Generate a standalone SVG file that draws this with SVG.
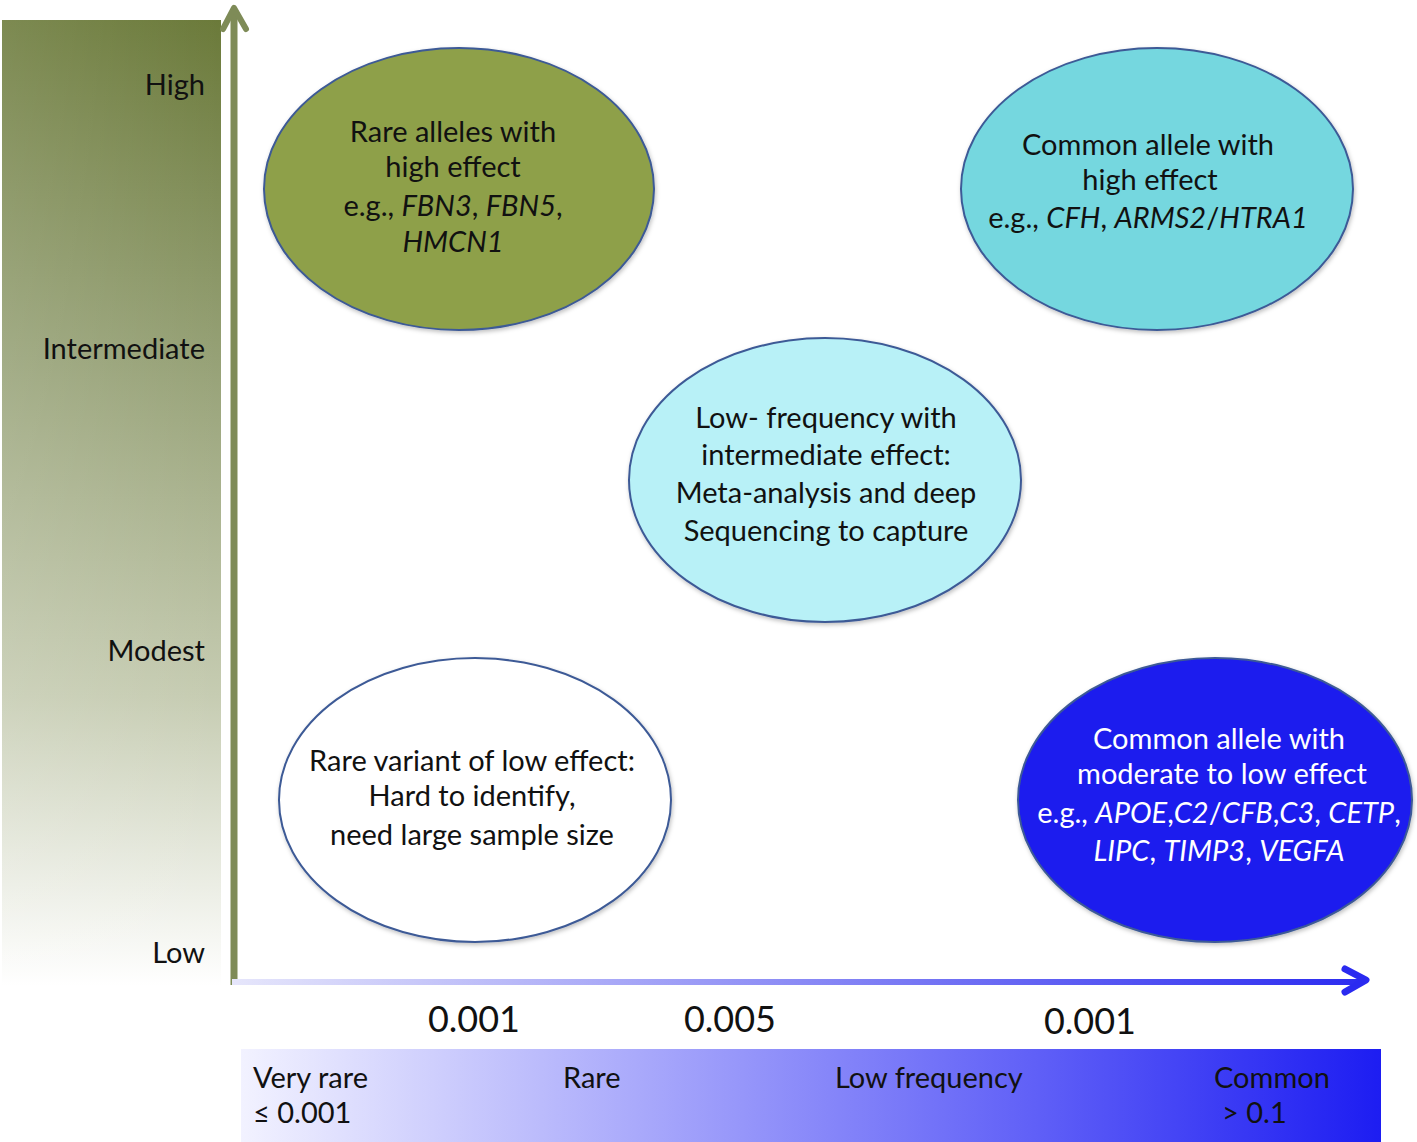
<svg xmlns="http://www.w3.org/2000/svg" width="1417" height="1142" viewBox="0 0 1417 1142">
<defs>
<linearGradient id="gPanel" x1="0" y1="0" x2="0" y2="1">
<stop offset="0" stop-color="#6b7a3a"/>
<stop offset="0.35" stop-color="#96a176"/>
<stop offset="0.7" stop-color="#c6ccb2"/>
<stop offset="1" stop-color="#ffffff"/>
</linearGradient>
<linearGradient id="gPanelH" x1="0" y1="0" x2="1" y2="0">
<stop offset="0" stop-color="#ffffff" stop-opacity="0.12"/>
<stop offset="1" stop-color="#ffffff" stop-opacity="0"/>
</linearGradient>
<linearGradient id="gBar" x1="0" y1="0" x2="1" y2="0">
<stop offset="0" stop-color="#f2f2ff"/>
<stop offset="0.35" stop-color="#a9a9fb"/>
<stop offset="0.7" stop-color="#5f5ff7"/>
<stop offset="1" stop-color="#1d1df2"/>
</linearGradient>
<linearGradient id="gAxis" x1="232" y1="0" x2="1370" y2="0" gradientUnits="userSpaceOnUse">
<stop offset="0" stop-color="#e6e6fb"/>
<stop offset="0.5" stop-color="#8a8af5"/>
<stop offset="1" stop-color="#2a2af0"/>
</linearGradient>
<filter id="sh" x="-5%" y="-5%" width="110%" height="115%">
<feDropShadow dx="1" dy="2" stdDeviation="2" flood-color="#000" flood-opacity="0.25"/>
</filter>
</defs>
<style>
.t{font-family:"Lato","Open Sans","Liberation Sans",sans-serif;font-size:29px;fill:#111}
.c{text-anchor:middle}
.r{text-anchor:end}
.w{fill:#ffffff}
.i{font-style:italic}
.n{font-size:36px}
.e{stroke:#3d5a96;stroke-width:2;filter:url(#sh)}
</style>
<rect width="1417" height="1142" fill="#ffffff"/>
<g id="effect-panel">
<rect x="2" y="20" width="219" height="966" fill="url(#gPanel)"/>
<rect x="2" y="20" width="219" height="966" fill="url(#gPanelH)"/>
<text class="t r" x="205" y="95">High</text>
<text class="t r" x="205" y="359">Intermediate</text>
<text class="t r" x="205" y="661">Modest</text>
<text class="t r" x="205" y="963">Low</text>
</g>
<g id="axes">
<line x1="234" y1="985" x2="234" y2="10" stroke="#7e8b57" stroke-width="7"/>
<polyline points="223,29 234,8 246,29" fill="none" stroke="#7e8b57" stroke-width="6" stroke-linecap="round" stroke-linejoin="round"/>
<line x1="232" y1="982" x2="1362" y2="982" stroke="url(#gAxis)" stroke-width="6"/>
<polyline points="1345,969 1366,980 1345,992" fill="none" stroke="#2a2af0" stroke-width="7" stroke-linecap="round" stroke-linejoin="round"/>
</g>
<g id="node-rare-high">
<ellipse class="e" cx="459" cy="189" rx="195" ry="141" fill="#8ea04a"/>
<text class="t c" x="453" y="142">Rare alleles with</text>
<text class="t c" x="453" y="177">high effect</text>
<text class="t c" x="453" y="216">e.g., <tspan class="i">FBN3</tspan>, <tspan class="i">FBN5</tspan>,</text>
<text class="t c i" x="453" y="252">HMCN1</text>
</g>
<g id="node-common-high">
<ellipse class="e" cx="1157" cy="189" rx="196" ry="141" fill="#74d7df"/>
<text class="t c" x="1148" y="155">Common allele with</text>
<text class="t c" x="1150" y="190">high effect</text>
<text class="t c" x="1148" y="228">e.g., <tspan class="i">CFH</tspan>, <tspan class="i">ARMS2</tspan>/<tspan class="i">HTRA1</tspan></text>
</g>
<g id="node-lowfreq">
<ellipse class="e" cx="825" cy="480" rx="196" ry="142" fill="#b8f1f7"/>
<text class="t c" x="826" y="428">Low- frequency with</text>
<text class="t c" x="826" y="465">intermediate effect:</text>
<text class="t c" x="826" y="503">Meta-analysis and deep</text>
<text class="t c" x="826" y="541">Sequencing to capture</text>
</g>
<g id="node-rare-low">
<ellipse class="e" cx="475" cy="800" rx="196" ry="142" fill="#ffffff"/>
<text class="t c" x="472" y="771">Rare variant of low effect:</text>
<text class="t c" x="472" y="806">Hard to identify,</text>
<text class="t c" x="472" y="845">need large sample size</text>
</g>
<g id="node-common-low">
<ellipse class="e" cx="1215" cy="800" rx="197" ry="142" fill="#1c1cee"/>
<text class="t c w" x="1219" y="749">Common allele with</text>
<text class="t c w" x="1222" y="784">moderate to low effect</text>
<text class="t c w" x="1219" y="823">e.g., <tspan class="i">APOE</tspan>,<tspan class="i">C2</tspan>/<tspan class="i">CFB</tspan>,<tspan class="i">C3</tspan>, <tspan class="i">CETP</tspan>,</text>
<text class="t c w i" x="1219" y="861">LIPC<tspan font-style="normal">, </tspan>TIMP3<tspan font-style="normal">, </tspan>VEGFA</text>
</g>
<g id="ticks">
<text class="t n c" x="474" y="1032">0.001</text>
<text class="t n c" x="730" y="1032">0.005</text>
<text class="t n c" x="1090" y="1034">0.001</text>
</g>
<g id="frequency-bar">
<rect x="241" y="1049" width="1140" height="93" fill="url(#gBar)"/>
<text class="t" x="253" y="1088">Very rare</text>
<text class="t" x="253" y="1123">≤ 0.001</text>
<text class="t" x="563" y="1088">Rare</text>
<text class="t" x="835" y="1088">Low frequency</text>
<text class="t" x="1214" y="1088">Common</text>
<text class="t" x="1222" y="1123">&gt; 0.1</text>
</g>
</svg>
